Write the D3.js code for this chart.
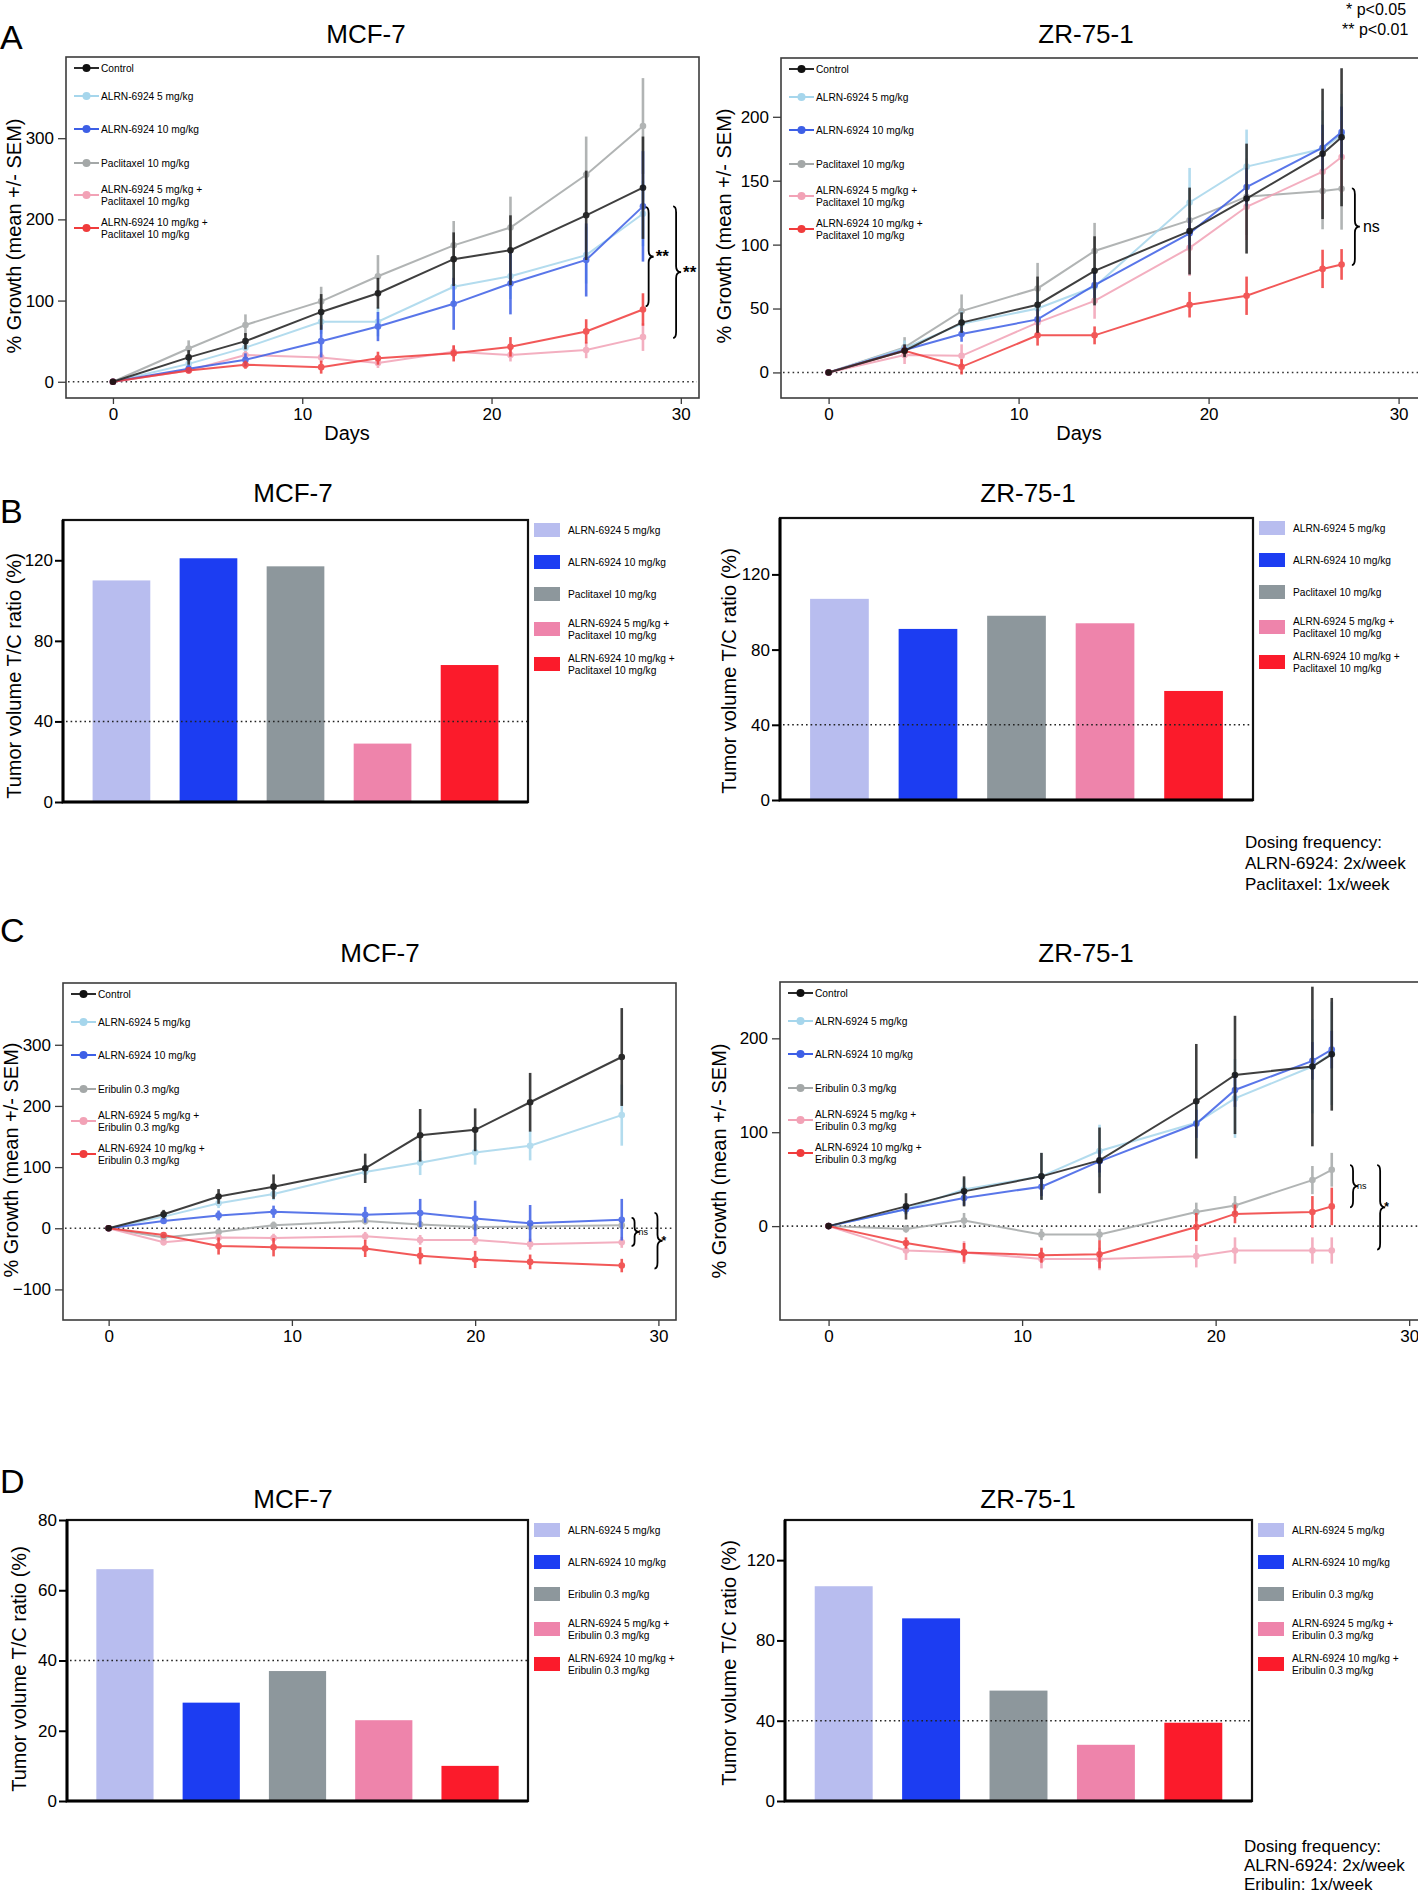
<!DOCTYPE html>
<html><head><meta charset="utf-8">
<script src="https://cdn.jsdelivr.net/npm/d3@7"></script>
<style>
body{margin:0;background:#fff}
svg{display:block}
text{font-family:"Liberation Sans",Arial,Helvetica,sans-serif;fill:#000}
</style>
</head><body>
<svg id="c" width="1418" height="1896"></svg>
<script>
// ---------------- DATA ----------------
const namesPacli = ["Control","ALRN-6924 5 mg/kg","ALRN-6924 10 mg/kg","Paclitaxel 10 mg/kg","ALRN-6924 5 mg/kg +|Paclitaxel 10 mg/kg","ALRN-6924 10 mg/kg +|Paclitaxel 10 mg/kg"];
const namesEri = ["Control","ALRN-6924 5 mg/kg","ALRN-6924 10 mg/kg","Eribulin 0.3 mg/kg","ALRN-6924 5 mg/kg +|Eribulin 0.3 mg/kg","ALRN-6924 10 mg/kg +|Eribulin 0.3 mg/kg"];

// Panel A, MCF-7 (order: Control, ALRN5, ALRN10, Paclitaxel, Combo5, Combo10)
const daysA_MCF7 = [0,4,7,11,14,18,21,25,28];
const meanA_MCF7 = [
  [0,30,50,86,109,151,162,205,239],
  [0,22,42,74,74,117,130,156,207],
  [0,16,27,50,68,96,121,150,216],
  [0,41,70,99,130,168,190,255,315],
  [0,14,33,30,23,37,33,39,55],
  [0,14,21,18,29,35,43,62,89]];
const semA_MCF7 = [
  [0,9,10,22,19,33,43,55,63],
  [0,10,12,15,18,25,28,35,40],
  [0,5,8,20,18,32,38,45,68],
  [0,10,13,18,26,30,38,47,59],
  [0,4,5,6,6,7,8,10,17],
  [0,3,5,8,8,10,12,15,20]];

// Panel A, ZR-75-1
const daysA_ZR = [0,4,7,11,14,19,22,26,27];
const meanA_ZR = [
  [0,17,39,53,79.5,110.6,136,171,184],
  [0,19,38,50,67,133,161,175,186],
  [0,17.5,30,41.5,68.3,108.8,145,175.8,188],
  [0,19.6,48,65.7,95,119,137.5,142,143.7],
  [0,13.6,13,39,56,97.5,129.6,157,168.5],
  [0,17,4.4,29,29,53,60,81,84.5]];
const semA_ZR = [
  [0,5,8,22,27,34,43,51,54],
  [0,6,10,12,15,27,29,30,32],
  [0,4,6,8,10,12,15,18,20],
  [0,8,13,20,22,25,30,30,32],
  [0,7,9,10,14,22,26,30,28],
  [0,4,6,8,7,10,15,15,12]];

// Panel C, MCF-7 (order: Control, ALRN5, ALRN10, Eribulin, Combo5, Combo10)
const daysC_MCF7 = [0,3,6,9,14,17,20,23,28];
const meanC_MCF7 = [
  [0,23,52,68,98,152,161,206,280],
  [0,19,41,56,92,107,124,135,185],
  [0,12,21,27,22,25,16,8,14],
  [0,-15,-6,5,12,6,2,3,5],
  [0,-23,-15,-16,-13,-19,-19,-26,-23],
  [0,-11,-29,-31,-33,-45,-51,-55,-61]];
const semC_MCF7 = [
  [0,7,12,20,24,43,35,48,80],
  [0,5,8,10,12,20,20,24,50],
  [0,4,8,10,13,23,29,30,34],
  [0,5,5,6,6,6,6,6,6],
  [0,5,6,7,7,8,8,9,9],
  [0,4,14,15,14,14,14,12,11]];

// Panel C, ZR-75-1
const daysC_ZR = [0,4,7,11,14,19,21,25,26];
const meanC_ZR = [
  [0,21,37,53,70,133,161,170,183],
  [0,18,39,53,80,110,136,170,184],
  [0,18,30,42,69,109,145,176,188],
  [0,-3,6,-9,-9,15,22,49,60],
  [0,-26,-28,-35,-35,-32,-26,-26,-26],
  [0,-18,-28,-31,-30,-1,13,15,21]];
const semC_ZR = [
  [0,14,16,25,35,61,63,85,60],
  [0,6,12,25,28,35,42,50,55],
  [0,5,8,10,12,15,18,20,20],
  [0,4,8,6,6,10,10,15,18],
  [0,10,12,10,12,12,14,14,14],
  [0,6,10,8,15,15,10,17,20]];

// Bar panels (T/C ratio %)
const barNamesPacli = namesPacli.slice(1);
const barNamesEri = namesEri.slice(1);
const tcB_MCF7 = [110,121,117,29,68];
const tcB_ZR = [107,91,98,94,58];
const tcD_MCF7 = [66,28,37,23,10];
const tcD_ZR = [107,91,55,28,39];

// Tick values
const ticksA_MCF7 = [0,100,200,300];
const ticksA_ZR = [0,50,100,150,200];
const ticksC_MCF7 = [-100,0,100,200,300];
const ticksC_ZR = [0,100,200];
const ticksDays = [0,10,20,30];
const ticksB = [0,40,80,120];
const ticksD_MCF7 = [0,20,40,60,80];
const ticksD_ZR = [0,40,80,120];

// Significance brackets [day position, top value, bottom value, label]
const bracketsA_MCF7 = [[28.3,215,93,"**"],[29.75,216,54,"**"]];
const bracketsA_ZR = [[27.7,144,84,"ns"]];
const bracketsC_MCF7 = [[28.7,17,-29,"ns"],[29.95,25,-66,"*"]];
const bracketsC_ZR = [[27.1,65,20,"ns"],[28.5,65,-25,"*"]];

// ---------------- STYLE ----------------
const lineColors = ["#2b2b2b","#a6d6ec","#3d5fe6","#a4a8a8","#f2a2b6","#f03c3c"];
const barColors = ["#b8bdef","#1c3df2","#8d979c","#ee84ab","#fb1b2b"];
const drawOrder = [3,1,4,2,5,0];

const svg = d3.select("#c");
svg.append("rect").attr("width",1418).attr("height",1896).attr("fill","#fff");

function txt(x,y,s,size,anchor,extra){
  const t = svg.append("text").attr("x",x).attr("y",y).attr("font-size",size).attr("text-anchor",anchor||"start").text(s);
  if(extra) extra(t);
  return t;
}
function ylabel(x,y,s){
  svg.append("text").attr("transform",`translate(${x},${y}) rotate(-90)`)
    .attr("text-anchor","middle").attr("dominant-baseline","central").attr("font-size",20).text(s);
}
function brace(g,x,y1,y2,w){
  const ym=(y1+y2)/2, r=Math.min(6,(y2-y1)/6);
  const p = `M${x-3},${y1} Q${x},${y1} ${x},${y1+r} L${x},${ym-r} Q${x},${ym} ${x+w},${ym} Q${x},${ym} ${x},${ym+r} L${x},${y2-r} Q${x},${y2} ${x-3},${y2}`;
  g.append("path").attr("d",p).attr("fill","none").attr("stroke","#000").attr("stroke-width",1.8);
}

function lineChart(c){
  const g = svg.append("g");
  const x = d3.scaleLinear().domain(c.xDom).range([c.box[0],c.box[0]+c.box[2]]);
  const y = d3.scaleLinear().domain(c.yDom).range([c.box[1]+c.box[3],c.box[1]]);
  g.append("rect").attr("x",c.box[0]).attr("y",c.box[1]).attr("width",c.box[2]).attr("height",c.box[3])
    .attr("fill","none").attr("stroke","#3c3c3c").attr("stroke-width",1.6);
  const ya = g.append("g").attr("transform",`translate(${c.box[0]},0)`)
    .call(d3.axisLeft(y).tickValues(c.yTicks).tickSize(8).tickPadding(4).tickFormat(d3.format("d")));
  ya.select(".domain").remove();
  ya.selectAll("line").attr("stroke","#3c3c3c").attr("stroke-width",1.3);
  ya.selectAll("text").attr("font-size",17).attr("font-family",'"Liberation Sans",Arial,sans-serif');
  const xa = g.append("g").attr("transform",`translate(0,${c.box[1]+c.box[3]})`)
    .call(d3.axisBottom(x).tickValues(ticksDays).tickSize(6).tickPadding(4));
  xa.select(".domain").remove();
  xa.selectAll("line").attr("stroke","#3c3c3c").attr("stroke-width",1.3);
  xa.selectAll("text").attr("font-size",17).attr("font-family",'"Liberation Sans",Arial,sans-serif');
  g.append("line").attr("x1",c.box[0]+2).attr("x2",c.box[0]+c.box[2]-2).attr("y1",y(0)).attr("y2",y(0))
    .attr("stroke","#333").attr("stroke-width",1.6).attr("stroke-dasharray","1.6,3.2");
  const line = d3.line().x((d,i)=>x(c.days[i])).y(d=>y(d));
  drawOrder.forEach(s=>{
    const col = lineColors[s];
    const sg = g.append("g").attr("opacity", s===0?0.9:0.85);
    sg.selectAll("line.err").data(c.mean[s]).join("line").attr("class","err")
      .attr("x1",(d,i)=>x(c.days[i])).attr("x2",(d,i)=>x(c.days[i]))
      .attr("y1",(d,i)=>y(d+c.sem[s][i])).attr("y2",(d,i)=>y(d-c.sem[s][i]))
      .attr("stroke",col).attr("stroke-width",2.6);
    sg.append("path").attr("d",line(c.mean[s])).attr("fill","none").attr("stroke",col).attr("stroke-width",2);
    sg.selectAll("circle").data(c.mean[s]).join("circle")
      .attr("cx",(d,i)=>x(c.days[i])).attr("cy",d=>y(d)).attr("r",3.3).attr("fill",s===0?"#111":col);
  });
  const legOff = [11,39,72,106,138,171];
  c.names.forEach((n,i)=>{
    const ly = c.box[1]+legOff[i];
    const lx = c.box[0];
    g.append("line").attr("x1",lx+8).attr("x2",lx+33).attr("y1",ly).attr("y2",ly)
      .attr("stroke",lineColors[i]).attr("stroke-width",2);
    g.append("circle").attr("cx",lx+20.5).attr("cy",ly).attr("r",4).attr("fill",i===0?"#111":lineColors[i]);
    const parts = n.split("|");
    parts.forEach((p,k)=>{
      const dy = parts.length===1?0:(k===0?-6:6);
      g.append("text").attr("x",lx+35).attr("y",ly+dy).attr("dominant-baseline","central")
        .attr("font-size",10.2).text(p);
    });
  });
  c.brackets.forEach(b=>{
    const bx = x(b[0]);
    brace(g,bx,y(b[1]),y(b[2]),5);
    g.append("text").attr("x",bx+c.bLabelDx).attr("y",(y(b[1])+y(b[2]))/2).attr("dominant-baseline","central")
      .attr("font-size",b[3]==="ns"?c.nsSize:c.starSize).attr("font-weight",b[3]==="ns"?"normal":"bold").text(b[3]);
  });
  txt(c.title[0],c.title[1],c.title[2],26,"middle");
  ylabel(c.ylab[0],c.ylab[1],"% Growth (mean +/- SEM)");
  if(c.daysLab) txt(c.daysLab[0],c.daysLab[1],"Days",20,"middle");
}

function barChart(c){
  const g = svg.append("g");
  const x = d3.scaleBand().domain(d3.range(5)).range([c.box[0],c.box[0]+c.box[2]]).paddingInner(0.337).paddingOuter(0.34);
  const y = d3.scaleLinear().domain(c.yDom).range([c.box[1]+c.box[3],c.box[1]]);
  g.selectAll("rect.bar").data(c.vals).join("rect").attr("class","bar")
    .attr("x",(d,i)=>x(i)).attr("width",x.bandwidth()).attr("y",d=>y(d)).attr("height",d=>y(0)-y(d))
    .attr("fill",(d,i)=>barColors[i]);
  g.append("line").attr("x1",c.box[0]+3).attr("x2",c.box[0]+c.box[2]).attr("y1",y(40)).attr("y2",y(40))
    .attr("stroke","#222").attr("stroke-width",1.5).attr("stroke-dasharray","1.6,3");
  g.append("rect").attr("x",c.box[0]).attr("y",c.box[1]).attr("width",c.box[2]).attr("height",c.box[3])
    .attr("fill","none").attr("stroke","#111").attr("stroke-width",2.2);
  g.append("path").attr("d",`M${c.box[0]},${c.box[1]} V${c.box[1]+c.box[3]} H${c.box[0]+c.box[2]}`)
    .attr("fill","none").attr("stroke","#000").attr("stroke-width",3);
  const ya = g.append("g").attr("transform",`translate(${c.box[0]},0)`)
    .call(d3.axisLeft(y).tickValues(c.yTicks).tickSize(8).tickPadding(2));
  ya.select(".domain").remove();
  ya.selectAll("line").attr("stroke","#000").attr("stroke-width",2);
  ya.selectAll("text").attr("font-size",17).attr("font-family",'"Liberation Sans",Arial,sans-serif');
  const legOff = [10,42,74,109,144];
  c.names.forEach((n,i)=>{
    const ly = c.box[1]+legOff[i];
    const lx = c.box[0]+c.box[2]+6;
    g.append("rect").attr("x",lx).attr("y",ly-7).attr("width",26).attr("height",14).attr("fill",barColors[i]);
    const parts = n.split("|");
    parts.forEach((p,k)=>{
      const dy = parts.length===1?0:(k===0?-6:6);
      g.append("text").attr("x",lx+34).attr("y",ly+dy).attr("dominant-baseline","central")
        .attr("font-size",10.2).text(p);
    });
  });
  txt(c.title[0],c.title[1],c.title[2],26,"middle");
  ylabel(c.ylab[0],c.ylab[1],"Tumor volume T/C ratio (%)");
}

// ---------------- PANELS ----------------
lineChart({box:[66,57,633,341], xDom:[-2.48,30.96], yDom:[-20,400], yTicks:ticksA_MCF7,
  days:daysA_MCF7, mean:meanA_MCF7, sem:semA_MCF7, names:namesPacli, brackets:bracketsA_MCF7,
  bLabelDx:7, nsSize:16, starSize:17,
  title:[366,43,"MCF-7"], ylab:[14,236], daysLab:[347,440]});
lineChart({box:[781,58,640,340], xDom:[-2.505,31.18], yDom:[-20,246], yTicks:ticksA_ZR,
  days:daysA_ZR, mean:meanA_ZR, sem:semA_ZR, names:namesPacli, brackets:bracketsA_ZR,
  bLabelDx:8, nsSize:16, starSize:17,
  title:[1086,43,"ZR-75-1"], ylab:[724,226], daysLab:[1079,440]});
lineChart({box:[63,983,613,337], xDom:[-2.49,30.96], yDom:[-150,401], yTicks:ticksC_MCF7,
  days:daysC_MCF7, mean:meanC_MCF7, sem:semC_MCF7, names:namesEri, brackets:bracketsC_MCF7,
  bLabelDx:4, nsSize:9, starSize:12,
  title:[380,962,"MCF-7"], ylab:[11,1160]});
lineChart({box:[780,982,640,338], xDom:[-2.51,30.56], yDom:[-100,260], yTicks:ticksC_ZR,
  days:daysC_ZR, mean:meanC_ZR, sem:semC_ZR, names:namesEri, brackets:bracketsC_ZR,
  bLabelDx:4, nsSize:9, starSize:12,
  title:[1086,962,"ZR-75-1"], ylab:[719,1161]});

barChart({box:[63,520,465,282], yDom:[0,140], yTicks:ticksB, vals:tcB_MCF7, names:barNamesPacli,
  title:[293,502,"MCF-7"], ylab:[14,676]});
barChart({box:[780,518,473,282], yDom:[0,150], yTicks:ticksB, vals:tcB_ZR, names:barNamesPacli,
  title:[1028,502,"ZR-75-1"], ylab:[729,671]});
barChart({box:[67,1520,461,281], yDom:[0,80], yTicks:ticksD_MCF7, vals:tcD_MCF7, names:barNamesEri,
  title:[293,1508,"MCF-7"], ylab:[19,1669]});
barChart({box:[785,1520,467,281], yDom:[0,140], yTicks:ticksD_ZR, vals:tcD_ZR, names:barNamesEri,
  title:[1028,1508,"ZR-75-1"], ylab:[729,1663]});

// panel letters
txt(0,49,"A",34); txt(0,523,"B",34); txt(0,942,"C",34); txt(0,1493,"D",34);
// p-value key
txt(1346,15,"* p<0.05",16); txt(1342,35,"** p<0.01",16);
// dosing notes
[["Dosing frequency:",848],["ALRN-6924: 2x/week",869],["Paclitaxel: 1x/week",890]].forEach(d=>txt(1245,d[1],d[0],17));
[["Dosing frequency:",1852],["ALRN-6924: 2x/week",1871],["Eribulin: 1x/week",1890]].forEach(d=>txt(1244,d[1],d[0],17));
</script>
</body></html>
